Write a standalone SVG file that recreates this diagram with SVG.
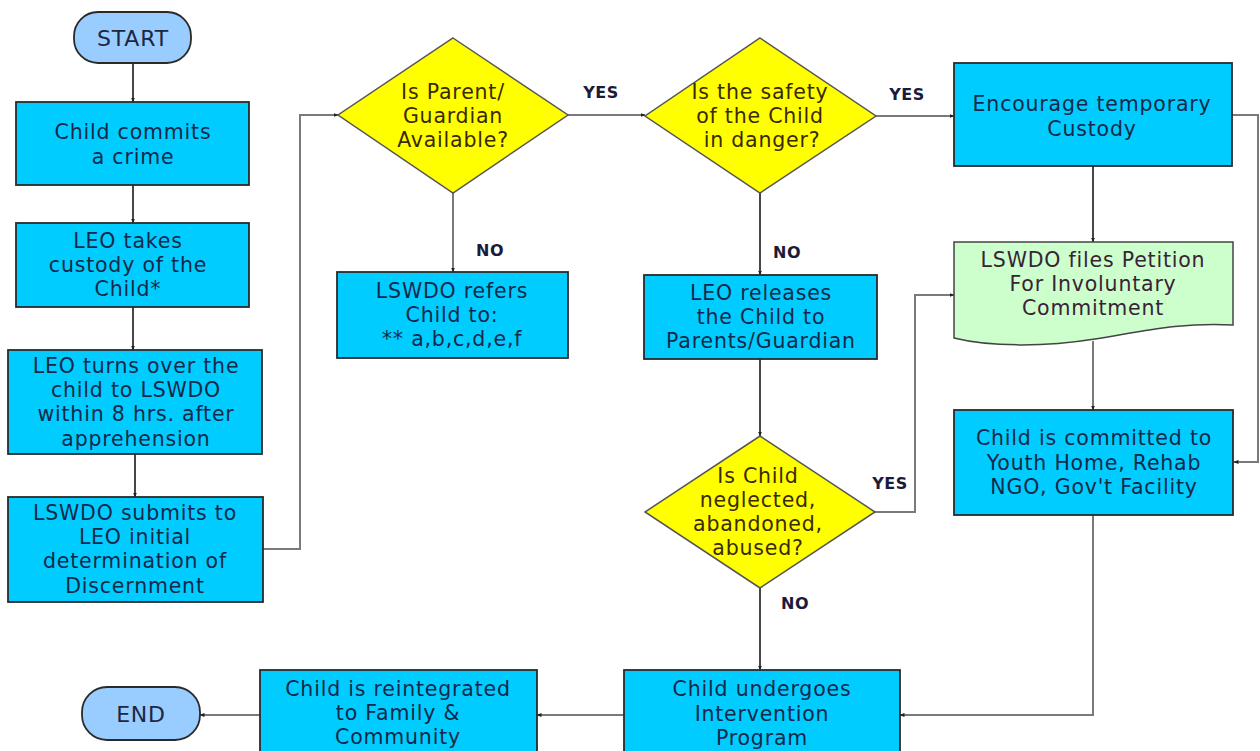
<svg xmlns="http://www.w3.org/2000/svg" width="1260" height="751" viewBox="0 0 1260 751">
  <style>
    .box { fill: #00ccff; stroke: #2a2a2a; stroke-width: 1.8; }
    .dia { fill: #ffff00; stroke: #555555; stroke-width: 1.5; }
    .term { fill: #99ccff; stroke: #2a2a2a; stroke-width: 1.8; }
    .doc { fill: #ccffcc; stroke: #444444; stroke-width: 1.5; }
    text { font-family: "DejaVu Sans", Verdana, sans-serif; font-size: 20.5px; letter-spacing: 0.8px; text-anchor: middle; }
    .t { fill: #13294a; }
    .td { fill: #3a2a00; }
    .tp { fill: #3a2236; }
    .lbl { font-weight: bold; font-size: 16px; letter-spacing: 0.5px; fill: #1a1a3a; }
    .big { font-size: 22px; fill: #1e2640; }
    .ln { fill: none; stroke: #333333; stroke-width: 1.8; }
    .lg { fill: none; stroke: #7a7a7a; stroke-width: 2; }
  </style>
  <defs>
    <marker id="arr" viewBox="0 0 10 10" refX="9" refY="5" markerWidth="5" markerHeight="5" orient="auto" markerUnits="userSpaceOnUse">
      <path d="M0,1 L10,5 L0,9 Z" fill="#222222"/>
    </marker>
  </defs>

  <!-- connectors -->
  <g id="connectors">
    <path class="ln" d="M133,63 V102" marker-end="url(#arr)"/>
    <path class="ln" d="M133,185 V223" marker-end="url(#arr)"/>
    <path class="ln" d="M133,307 V350" marker-end="url(#arr)"/>
    <path class="ln" d="M135,454 V497" marker-end="url(#arr)"/>
    <path class="lg" d="M263,549 H300 V115 H338" marker-end="url(#arr)"/>
    <path class="lg" d="M568,115 H645" marker-end="url(#arr)"/>
    <path class="lg" d="M453,193 V272" marker-end="url(#arr)"/>
    <path class="lg" d="M876,116 H954" marker-end="url(#arr)"/>
    <path class="ln" d="M760,193 V275" marker-end="url(#arr)"/>
    <path class="ln" d="M760,359 V436" marker-end="url(#arr)"/>
    <path class="lg" d="M875,512 H915 V295 H954" marker-end="url(#arr)"/>
    <path class="ln" d="M1093,166 V242" marker-end="url(#arr)"/>
    <path class="lg" d="M1232,115 H1258 V462 H1234" marker-end="url(#arr)"/>
    <path class="lg" d="M1093,341 V410" marker-end="url(#arr)"/>
    <path class="lg" d="M1093,515 V715 H900" marker-end="url(#arr)"/>
    <path class="ln" d="M760,588 V670" marker-end="url(#arr)"/>
    <path class="lg" d="M624,715 H537" marker-end="url(#arr)"/>
    <path class="lg" d="M260,715 H200" marker-end="url(#arr)"/>
    <text class="lbl" x="601" y="98">YES</text>
    <text class="lbl" x="907" y="100">YES</text>
    <text class="lbl" x="490" y="256">NO</text>
    <text class="lbl" x="787" y="258">NO</text>
    <text class="lbl" x="890" y="489">YES</text>
    <text class="lbl" x="795" y="609">NO</text>
  </g>

  <g id="start">
    <rect class="term" x="74" y="12" width="117" height="51" rx="24" ry="24"/>
    <text class="big" x="133" y="46">START</text>
  </g>

  <g id="commits">
    <rect class="box" x="16" y="102" width="233" height="83"/>
    <text class="t" x="133" y="139">Child commits</text>
    <text class="t" x="133" y="164">a crime</text>
  </g>

  <g id="custody">
    <rect class="box" x="16" y="223" width="233" height="84"/>
    <text class="t" x="128" y="248">LEO takes</text>
    <text class="t" x="128" y="272">custody of the</text>
    <text class="t" x="128" y="296">Child*</text>
  </g>

  <g id="turnover">
    <rect class="box" x="8" y="350" width="254" height="104"/>
    <text class="t" x="136" y="373">LEO turns  over the</text>
    <text class="t" x="136" y="397">child to LSWDO</text>
    <text class="t" x="136" y="421">within 8 hrs. after</text>
    <text class="t" x="136" y="446">apprehension</text>
  </g>

  <g id="submits">
    <rect class="box" x="8" y="497" width="255" height="105"/>
    <text class="t" x="135" y="520">LSWDO submits  to</text>
    <text class="t" x="135" y="544">LEO initial</text>
    <text class="t" x="135" y="568">determination of</text>
    <text class="t" x="135" y="593">Discernment</text>
  </g>

  <g id="parent-available">
    <polygon class="dia" points="453,38 568,115 453,193 338,115"/>
    <text class="td" x="453" y="99">Is Parent/</text>
    <text class="td" x="453" y="123">Guardian</text>
    <text class="td" x="453" y="147">Available?</text>
  </g>

  <g id="refers">
    <rect class="box" x="337" y="272" width="231" height="86"/>
    <text class="t" x="452" y="298">LSWDO refers</text>
    <text class="t" x="452" y="322">Child to:</text>
    <text class="t" x="452" y="346">** a,b,c,d,e,f</text>
  </g>

  <g id="safety">
    <polygon class="dia" points="760,38 876,116 760,193 645,116"/>
    <text class="td" x="760" y="99">Is the safety</text>
    <text class="td" x="760" y="123">of the Child</text>
    <text class="td" x="762" y="147">in danger?</text>
  </g>

  <g id="releases">
    <rect class="box" x="644" y="275" width="233" height="84"/>
    <text class="t" x="761" y="300">LEO releases</text>
    <text class="t" x="761" y="324">the Child to</text>
    <text class="t" x="761" y="348">Parents/Guardian</text>
  </g>

  <g id="temporary">
    <rect class="box" x="954" y="63" width="278" height="103"/>
    <text class="t" x="1092" y="111">Encourage temporary</text>
    <text class="t" x="1092" y="136">Custody</text>
  </g>

  <g id="petition">
    <path class="doc" d="M954,242 H1233 V325 C1180,322 1140,332 1095,339 C1045,347 990,347 954,338 Z"/>
    <text class="tp" x="1093" y="267">LSWDO files Petition</text>
    <text class="tp" x="1093" y="291">For Involuntary</text>
    <text class="tp" x="1093" y="315">Commitment</text>
  </g>

  <g id="committed">
    <rect class="box" x="954" y="410" width="279" height="105"/>
    <text class="t" x="1094" y="445">Child is committed to</text>
    <text class="t" x="1094" y="470">Youth Home, Rehab</text>
    <text class="t" x="1094" y="494">NGO, Gov't Facility</text>
  </g>

  <g id="neglected">
    <polygon class="dia" points="760,436 875,512 760,588 645,512"/>
    <text class="td" x="758" y="483">Is Child</text>
    <text class="td" x="758" y="507">neglected,</text>
    <text class="td" x="758" y="531">abandoned,</text>
    <text class="td" x="758" y="555">abused?</text>
  </g>

  <g id="intervention">
    <rect class="box" x="624" y="670" width="276" height="90"/>
    <text class="t" x="762" y="696">Child undergoes</text>
    <text class="t" x="762" y="721">Intervention</text>
    <text class="t" x="762" y="745">Program</text>
  </g>

  <g id="reintegrated">
    <rect class="box" x="260" y="670" width="277" height="90"/>
    <text class="t" x="398" y="696">Child is reintegrated</text>
    <text class="t" x="398" y="720">to Family  &amp;</text>
    <text class="t" x="398" y="744">Community</text>
  </g>

  <g id="end">
    <rect class="term" x="82" y="687" width="118" height="53" rx="25" ry="25"/>
    <text class="big" x="141" y="722">END</text>
  </g>
</svg>
